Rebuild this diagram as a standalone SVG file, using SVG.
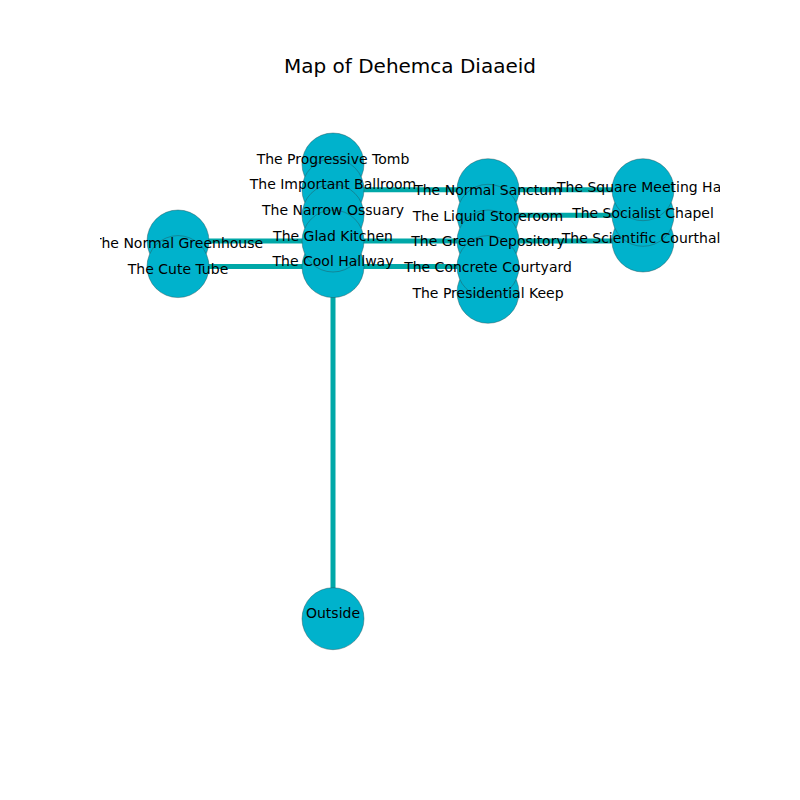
<svg xmlns="http://www.w3.org/2000/svg" width="800" height="800" viewBox="0 0 800 800">
<defs>
<clipPath id="ax"><rect x="100" y="96" width="620" height="616"/></clipPath>
</defs>
<style>
.e{stroke:#00a8a8;stroke-width:5;fill:none}
.n{fill:#00b2cc;stroke:#2a4a50;stroke-width:0.6;stroke-opacity:0.7}
.l{font-family:"DejaVu Sans",sans-serif;font-size:14px;fill:#000;text-anchor:middle}
.t{font-family:"DejaVu Sans",sans-serif;font-size:20px;fill:#000;text-anchor:middle}
</style>
<rect width="800" height="800" fill="#fff"/>
<text class="t" x="410" y="73">Map of Dehemca Diaaeid</text>
<g clip-path="url(#ax)">
<g id="edges">
<line class="e" x1="333" y1="618.7" x2="333" y2="266.6"/>
<line class="e" x1="178" y1="266.6" x2="333" y2="266.6"/>
<line class="e" x1="333" y1="266.6" x2="488" y2="266.6"/>
<line class="e" x1="178" y1="241" x2="333" y2="241"/>
<line class="e" x1="333" y1="241" x2="488" y2="241"/>
<line class="e" x1="488" y1="241" x2="643" y2="241"/>
<line class="e" x1="333" y1="189.7" x2="488" y2="189.7"/>
<line class="e" x1="488" y1="189.7" x2="643" y2="189.7"/>
<line class="e" x1="488" y1="215.3" x2="643" y2="215.3"/>
</g>
<g id="node-outside"><circle class="n" cx="333" cy="618.7" r="31"/></g>
<g id="node-normal-greenhouse"><circle class="n" cx="178" cy="241" r="31"/></g>
<g id="node-cute-tube"><circle class="n" cx="178" cy="266.6" r="31"/></g>
<g id="node-cool-hallway"><circle class="n" cx="333" cy="266.6" r="31"/></g>
<g id="node-progressive-tomb"><circle class="n" cx="333" cy="164" r="31"/></g>
<g id="node-important-ballroom"><circle class="n" cx="333" cy="189.7" r="31"/></g>
<g id="node-narrow-ossuary"><circle class="n" cx="333" cy="215.3" r="31"/></g>
<g id="node-glad-kitchen"><circle class="n" cx="333" cy="241" r="31"/></g>
<g id="node-presidential-keep"><circle class="n" cx="488" cy="292.3" r="31"/></g>
<g id="node-normal-sanctum"><circle class="n" cx="488" cy="189.7" r="31"/></g>
<g id="node-liquid-storeroom"><circle class="n" cx="488" cy="215.3" r="31"/></g>
<g id="node-green-depository"><circle class="n" cx="488" cy="241" r="31"/></g>
<g id="node-concrete-courtyard"><circle class="n" cx="488" cy="266.6" r="31"/></g>
<g id="node-scientific-courthal"><circle class="n" cx="643" cy="241" r="31"/></g>
<g id="node-socialist-chapel"><circle class="n" cx="643" cy="215.3" r="31"/></g>
<g id="node-square-meeting-hall"><circle class="n" cx="643" cy="189.7" r="31"/></g>
<g id="labels">
<text class="l" x="333" y="617.7">Outside</text>
<text class="l" x="178" y="248">The Normal Greenhouse</text>
<text class="l" x="178" y="273.6">The Cute Tube</text>
<text class="l" x="333" y="163.5">The Progressive Tomb</text>
<text class="l" x="333" y="189.2">The Important Ballroom</text>
<text class="l" x="333" y="214.8">The Narrow Ossuary</text>
<text class="l" x="333" y="240.5">The Glad Kitchen</text>
<text class="l" x="333" y="266.1">The Cool Hallway</text>
<text class="l" x="488" y="195">The Normal Sanctum</text>
<text class="l" x="488" y="220.6">The Liquid Storeroom</text>
<text class="l" x="488" y="246.3">The Green Depository</text>
<text class="l" x="488" y="271.9">The Concrete Courtyard</text>
<text class="l" x="488" y="297.6">The Presidential Keep</text>
<text class="l" x="643" y="192">The Square Meeting Hall</text>
<text class="l" x="643" y="217.6">The Socialist Chapel</text>
<text class="l" x="643" y="243.3">The Scientific Courthall</text>
</g>
</g>
</svg>
